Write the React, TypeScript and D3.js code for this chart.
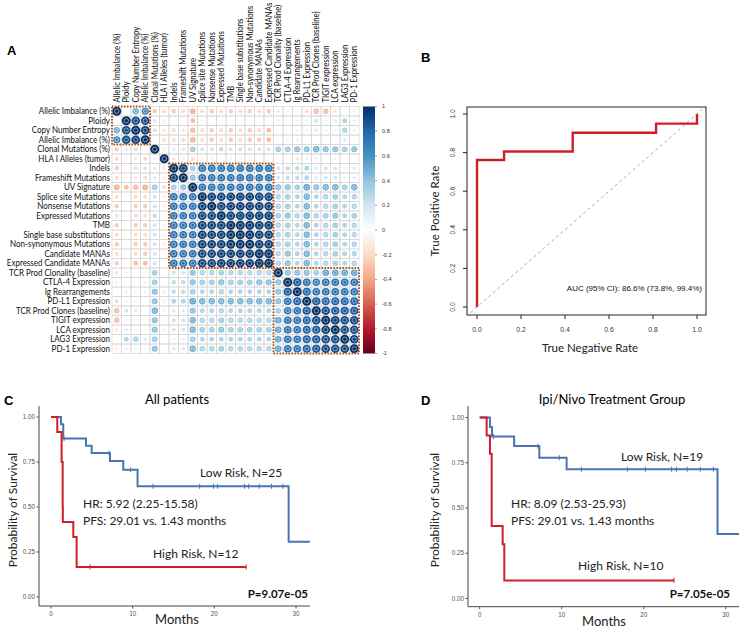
import React from 'react';
import * as d3 from 'd3';

// ---------------- Panel A data ----------------
const varLabels = [
  'Allelic Imbalance (%)', 'Ploidy', 'Copy Number Entropy', 'Allelic Imbalance (%)',
  'Clonal Mutations (%)', 'HLA I Alleles (tumor)', 'Indels', 'Frameshift Mutations',
  'UV Signature', 'Splice site Mutations', 'Nonsense Mutations', 'Expressed Mutations',
  'TMB', 'Single base substitutions', 'Non-synonymous Mutations', 'Candidate MANAs',
  'Expressed Candidate MANAs', 'TCR Prod Clonality (baseline)', 'CTLA-4 Expression',
  'Ig Rearrangements', 'PD-L1 Expression', 'TCR Prod Clones (baseline)', 'TIGIT expression',
  'LCA expression', 'LAG3 Expression', 'PD-1 Expression',
];

// upper triangle of the correlation matrix: row i holds columns i+1..n-1
const corrUpper: number[][] = [
  [0.05, 0.5, 0.65, -0.25, -0.2, -0.25, -0.2, -0.4, -0.2, -0.25, -0.2, -0.25, -0.2, -0.25, -0.2, -0.25, -0.15, -0.1, 0.05, -0.2, -0.35, -0.35, -0.15, 0.0, -0.1],
  [0.9, 0.9, 0.15, -0.1, 0.0, 0.05, -0.3, -0.05, 0.0, -0.05, 0.0, -0.05, 0.0, 0.0, -0.05, 0.1, 0.05, 0.1, 0.1, 0.2, 0.1, 0.15, 0.3, 0.1],
  [0.95, 0.2, -0.15, -0.2, -0.15, -0.35, -0.2, -0.25, -0.2, -0.25, -0.2, -0.25, -0.2, -0.3, 0.05, 0.05, 0.1, 0.1, 0.15, 0.1, 0.1, 0.35, 0.1],
  [0.05, -0.2, -0.2, -0.2, -0.4, -0.2, -0.25, -0.2, -0.25, -0.2, -0.25, -0.25, -0.3, 0.05, 0.1, 0.1, 0.05, 0.05, 0.05, 0.05, 0.15, 0.05],
  [0.1, 0.15, 0.15, 0.4, 0.2, 0.2, 0.25, 0.2, 0.2, 0.2, 0.2, 0.2, 0.4, 0.4, 0.45, 0.45, 0.5, 0.45, 0.45, 0.4, 0.45],
  [-0.15, -0.1, -0.2, -0.1, -0.1, -0.05, -0.1, -0.1, -0.1, -0.05, -0.05, 0.05, 0.05, -0.15, 0.1, 0.1, 0.05, 0.1, 0.05, 0.05],
  [0.95, 0.4, 0.75, 0.75, 0.75, 0.75, 0.75, 0.75, 0.75, 0.75, 0.2, 0.25, 0.25, 0.3, 0.15, 0.2, 0.2, 0.1, 0.15],
  [0.45, 0.75, 0.75, 0.75, 0.75, 0.75, 0.75, 0.75, 0.75, 0.2, 0.25, 0.25, 0.3, 0.15, 0.2, 0.2, 0.1, 0.15],
  [0.75, 0.75, 0.75, 0.75, 0.75, 0.75, 0.75, 0.75, 0.45, 0.45, 0.4, 0.55, 0.45, 0.5, 0.5, 0.4, 0.5],
  [0.95, 0.93, 0.95, 0.95, 0.95, 0.93, 0.93, 0.35, 0.4, 0.3, 0.5, 0.3, 0.35, 0.4, 0.3, 0.35],
  [0.93, 0.95, 0.95, 0.95, 0.93, 0.93, 0.35, 0.4, 0.3, 0.5, 0.3, 0.35, 0.4, 0.3, 0.35],
  [0.95, 0.95, 0.95, 0.95, 0.95, 0.4, 0.45, 0.35, 0.5, 0.35, 0.4, 0.45, 0.3, 0.4],
  [0.98, 0.98, 0.95, 0.95, 0.35, 0.4, 0.3, 0.5, 0.3, 0.35, 0.4, 0.3, 0.35],
  [0.98, 0.95, 0.95, 0.35, 0.4, 0.3, 0.5, 0.3, 0.35, 0.4, 0.3, 0.35],
  [0.95, 0.95, 0.35, 0.4, 0.3, 0.5, 0.3, 0.35, 0.4, 0.3, 0.35],
  [0.98, 0.35, 0.45, 0.3, 0.5, 0.3, 0.35, 0.4, 0.3, 0.35],
  [0.35, 0.45, 0.3, 0.5, 0.3, 0.35, 0.4, 0.3, 0.35],
  [0.45, 0.45, 0.45, 0.4, 0.55, 0.55, 0.55, 0.55],
  [0.85, 0.75, 0.7, 0.75, 0.75, 0.75, 0.75],
  [0.8, 0.75, 0.75, 0.75, 0.75, 0.75],
  [0.85, 0.8, 0.8, 0.8, 0.8],
  [0.9, 0.85, 0.85, 0.85],
  [0.95, 0.9, 0.92],
  [0.9, 0.9],
  [0.93],
];

const clusterBlocks: [number, number][] = [[0, 3], [6, 16], [17, 25]];
const colorbarTicks = [1, 0.8, 0.6, 0.4, 0.2, 0, -0.2, -0.4, -0.6, -0.8, -1];

// ---------------- Panel B data ----------------
const rocTNR = [0, 0, 0.123, 0.123, 0.435, 0.435, 0.814, 0.814, 1, 1];
const rocTPR = [0, 0.762, 0.762, 0.806, 0.806, 0.903, 0.903, 0.95, 0.95, 1];
const rocTicks = [0, 0.2, 0.4, 0.6, 0.8, 1.0];

// ---------------- Panel C data ----------------
const cLowTime = [0, 1.22, 1.5, 4.28, 4.98, 7.22, 8.85, 10.6, 29.1, 31.7];
const cLowSurv = [1, 0.96, 0.88, 0.84, 0.8, 0.755, 0.707, 0.615, 0.307, 0.307];
const cLowCensor = [1.6, 7.1, 9.75, 12.5, 18.2, 19.9, 20.4, 23.7, 24.2, 25.5, 27.0, 28.4];
const cHighTime = [0, 0.77, 1.3, 1.43, 1.45, 2.73, 3.14, 23.9];
const cHighSurv = [1, 0.917, 0.75, 0.5, 0.417, 0.333, 0.167, 0.167];
const cHighCensor = [4.77, 23.9];

// ---------------- Panel D data ----------------
const dLowTime = [0, 1.25, 1.5, 4.2, 7.27, 10.6, 29.0, 31.8];
const dLowSurv = [1, 0.947, 0.895, 0.842, 0.778, 0.714, 0.357, 0.357];
const dLowCensor = [1.7, 7.1, 9.7, 12.4, 18.0, 20.2, 23.4, 24.0, 25.3, 26.9, 28.5];
const dHighTime = [0, 0.85, 1.25, 1.46, 2.8, 3.0, 23.7];
const dHighSurv = [1, 0.9, 0.8, 0.4, 0.3, 0.1, 0.1];
const dHighCensor = [23.7];

const kmYTicks = [0, 0.25, 0.5, 0.75, 1];
const kmXTicks = [0, 10, 20, 30];

const corrColors = ['#67001F', '#B2182B', '#D6604D', '#F4A582', '#FDDBC7', '#FFFFFF', '#D1E5F0', '#92C5DE', '#4393C3', '#2166AC', '#053061'];

const LABEL_FONT = 'Lato, "Open Sans", sans-serif';
const TICK_FONT = '"Liberation Sans", Arial, sans-serif';
const BLUE = '#4a74b4';
const RED = '#cf1f26';

function stepValue(times: number[], surv: number[], t: number) {
  let v = surv[0];
  for (let i = 0; i < times.length; i++) if (times[i] <= t) v = surv[i];
  return v;
}

type KMProps = {
  x0: number; x1: number; y0: number; y1: number;
  axisLeft: number; axisRight: number; axisTop: number; axisBottom: number;
  low: [number[], number[], number[]];
  high: [number[], number[], number[]];
};

function KM(p: KMProps) {
  const x = d3.scaleLinear().domain([0, 30]).range([p.x0, p.x1]);
  const y = d3.scaleLinear().domain([0, 1]).range([p.y0, p.y1]);
  const line = d3.line<[number, number]>().x((d) => x(d[0])).y((d) => y(d[1])).curve(d3.curveStepAfter);
  const curve = (times: number[], surv: number[], censor: number[], color: string) => (
    <g>
      <path d={line(times.map((t, i) => [t, surv[i]] as [number, number])) || ''} fill="none" stroke={color} strokeWidth={2} />
      {censor.map((t, i) => {
        const v = stepValue(times, surv, t);
        return <line key={i} x1={x(t)} x2={x(t)} y1={y(v) - 2.5} y2={y(v) + 2.5} stroke={color} strokeWidth={1} />;
      })}
    </g>
  );
  return (
    <g>
      <line x1={p.axisLeft} x2={p.axisLeft} y1={p.axisTop} y2={p.axisBottom} stroke="#444" strokeWidth={1} />
      <line x1={p.axisLeft} x2={p.axisRight} y1={p.axisBottom} y2={p.axisBottom} stroke="#444" strokeWidth={1} />
      {kmYTicks.map((t) => (
        <g key={t}>
          <line x1={p.axisLeft - 2.5} x2={p.axisLeft} y1={y(t)} y2={y(t)} stroke="#555" />
          <text x={p.axisLeft - 4} y={y(t)} dy="0.33em" textAnchor="end" fontSize={6.3} fill="#555" fontFamily={TICK_FONT}>{t.toFixed(2)}</text>
        </g>
      ))}
      {kmXTicks.map((t) => (
        <g key={t}>
          <line x1={x(t)} x2={x(t)} y1={p.axisBottom} y2={p.axisBottom + 2.5} stroke="#555" />
          <text x={x(t)} y={p.axisBottom + 10} textAnchor="middle" fontSize={6.3} fill="#555" fontFamily={TICK_FONT}>{t}</text>
        </g>
      ))}
      {curve(p.low[0], p.low[1], p.low[2], BLUE)}
      {curve(p.high[0], p.high[1], p.high[2], RED)}
    </g>
  );
}

export default function App() {
  const n = varLabels.length;
  const M: number[][] = d3.range(n).map(() => d3.range(n).map(() => 1));
  corrUpper.forEach((row, i) => row.forEach((v, k) => { const j = i + 1 + k; M[i][j] = v; M[j][i] = v; }));

  const cell = 9.5;
  const gx0 = 112;
  const gy0 = 106.5;
  const bx = d3.scaleBand<number>().domain(d3.range(n)).range([gx0, gx0 + n * cell]);
  const by = d3.scaleBand<number>().domain(d3.range(n)).range([gy0, gy0 + n * cell]);
  const color = d3.scaleLinear<string>().domain(corrColors.map((_, i) => -1 + i * 0.2)).range(corrColors).interpolate(d3.interpolateRgb);
  const rad = d3.scaleSqrt().domain([0, 1]).range([0, cell * 0.47]);
  const cbY = d3.scaleLinear().domain([-1, 1]).range([gy0 + n * cell, gy0]);

  const rx = d3.scaleLinear().domain([0, 1]).range([477, 697]);
  const ry = d3.scaleLinear().domain([0, 1]).range([307, 114]);
  const rocLine = d3.line<number>().x((d) => rx(d)).y((_, i) => ry(rocTPR[i]));

  return (
    <svg width={739} height={628} style={{ position: 'absolute', left: 0, top: 0, background: '#fff' }} fontFamily={LABEL_FONT}>
      <defs>
        <linearGradient id="cbgrad" x1="0" y1="1" x2="0" y2="0">
          {corrColors.map((c, i) => <stop key={i} offset={`${i * 10}%`} stopColor={c} />)}
        </linearGradient>
        <clipPath id="rocclip"><rect x={467} y={107} width={239} height={208} /></clipPath>
      </defs>
      <rect x={0} y={0} width={739} height={628} fill="#fff" />

      {/* Panel letters */}
      <text x={7} y={55} fontSize={13} fontWeight="bold" fontFamily={TICK_FONT}>A</text>
      <text x={421} y={62} fontSize={13} fontWeight="bold" fontFamily={TICK_FONT}>B</text>
      <text x={4} y={405} fontSize={13} fontWeight="bold" fontFamily={TICK_FONT}>C</text>
      <text x={421} y={405} fontSize={13} fontWeight="bold" fontFamily={TICK_FONT}>D</text>

      {/* ---------- Panel A ---------- */}
      <g>
        {d3.range(n).map((i) => d3.range(n).map((j) => (
          <rect key={`g${i}-${j}`} x={bx(j)} y={by(i)} width={cell} height={cell} fill="none" stroke="#d6d6d6" strokeWidth={0.7} />
        )))}
        {d3.range(n).map((i) => d3.range(n).map((j) => {
          const v = M[i][j];
          const r = rad(Math.abs(v));
          const cx = (bx(j) as number) + cell / 2;
          const cy = (by(i) as number) + cell / 2;
          return (
            <g key={`c${i}-${j}`}>
              <circle cx={cx} cy={cy} r={r} fill={color(v)} />
              {Math.abs(v) >= 0.35 && <circle cx={cx} cy={cy} r={r * 0.5} fill="none" stroke="#fff" strokeOpacity={0.55} strokeWidth={0.9} />}
            </g>
          );
        }))}
        {clusterBlocks.map(([a, b], k) => (
          <rect key={k} x={bx(a)} y={by(a)} width={(b - a + 1) * cell} height={(b - a + 1) * cell} fill="none" stroke="#b4531e" strokeWidth={2} strokeDasharray="1.5,1.5" />
        ))}
        {varLabels.map((l, i) => (
          <text key={`r${i}`} transform={`translate(${gx0 - 2},${(by(i) as number) + cell / 2}) scale(0.93,1)`} dy="0.35em" textAnchor="end" fontSize={8.6} fill="#111">{l}</text>
        ))}
        {varLabels.map((l, i) => {
          const cx = (bx(i) as number) + cell / 2;
          return <text key={`t${i}`} transform={`translate(${cx},${gy0 - 4}) rotate(-90) scale(0.9,1)`} dy="0.35em" textAnchor="start" fontSize={8.6} fill="#111">{l}</text>;
        })}
        <rect x={363} y={gy0} width={12} height={n * cell} fill="url(#cbgrad)" />
        {colorbarTicks.map((t) => (
          <g key={t}>
            <line x1={375} x2={377} y1={cbY(t)} y2={cbY(t)} stroke="#666" strokeWidth={0.6} />
            <text x={382} y={cbY(t)} dy="0.35em" fontSize={5.6} fill="#333" fontFamily={TICK_FONT}>{t}</text>
          </g>
        ))}
      </g>

      {/* ---------- Panel B ---------- */}
      <g>
        <rect x={467} y={107} width={239} height={208} fill="none" stroke="#222" strokeWidth={1} />
        <line x1={rx(-0.05)} y1={ry(-0.05)} x2={rx(1.05)} y2={ry(1.05)} stroke="#aaa" strokeWidth={1} strokeDasharray="3,3" clipPath="url(#rocclip)" />
        <path d={rocLine(rocTNR) || ''} fill="none" stroke={RED} strokeWidth={2.4} />
        {rocTicks.map((t) => (
          <g key={`rx${t}`}>
            <line x1={rx(t)} x2={rx(t)} y1={315} y2={319} stroke="#222" />
            <text x={rx(t)} y={332} textAnchor="middle" fontSize={6.8} fill="#333" fontFamily={TICK_FONT}>{t.toFixed(1)}</text>
            <line x1={463} x2={467} y1={ry(t)} y2={ry(t)} stroke="#222" />
            <text transform={`translate(455,${ry(t)}) rotate(-90)`} textAnchor="middle" fontSize={6.8} fill="#333" fontFamily={TICK_FONT}>{t.toFixed(1)}</text>
          </g>
        ))}
        <text x={702} y={291} textAnchor="end" fontSize={8} fill="#111" fontFamily={TICK_FONT}>AUC (95% CI): 86.6% (73.8%, 99.4%)</text>
        <text transform="translate(439,211) rotate(-90)" textAnchor="middle" fontSize={11.5} fill="#222">True Positive Rate</text>
        <text x={590} y={352} textAnchor="middle" fontSize={11.5} fill="#222">True Negative Rate</text>
      </g>

      {/* ---------- Panel C ---------- */}
      <g>
        <text x={177} y={404} textAnchor="middle" fontSize={13}>All patients</text>
        <KM x0={51} x1={296} y0={597} y1={417} axisLeft={39} axisRight={310} axisTop={406} axisBottom={606}
          low={[cLowTime, cLowSurv, cLowCensor]} high={[cHighTime, cHighSurv, cHighCensor]} />
        <text x={200} y={477} fontSize={12} fill="#222">Low Risk, N=25</text>
        <text x={83} y={508} fontSize={12} fill="#222">HR: 5.92 (2.25-15.58)</text>
        <text x={83} y={525} fontSize={12} fill="#222">PFS: 29.01 vs. 1.43 months</text>
        <text x={153} y={558} fontSize={12} fill="#222">High Risk, N=12</text>
        <text x={308} y={598} textAnchor="end" fontSize={11.5} fontWeight="bold" fill="#111">P=9.07e-05</text>
        <text transform="translate(17,510) rotate(-90)" textAnchor="middle" fontSize={12} fill="#222">Probability of Survival</text>
        <text x={177} y={624} textAnchor="middle" fontSize={13} fill="#222">Months</text>
      </g>

      {/* ---------- Panel D ---------- */}
      <g>
        <text x={612} y={404} textAnchor="middle" fontSize={13}>Ipi/Nivo Treatment Group</text>
        <KM x0={479.7} x1={725.7} y0={598.5} y1={417.5} axisLeft={468} axisRight={739} axisTop={406} axisBottom={606.7}
          low={[dLowTime, dLowSurv, dLowCensor]} high={[dHighTime, dHighSurv, dHighCensor]} />
        <text x={621} y={461} fontSize={12} fill="#222">Low Risk, N=19</text>
        <text x={511} y={508} fontSize={12} fill="#222">HR: 8.09 (2.53-25.93)</text>
        <text x={511} y={525} fontSize={12} fill="#222">PFS: 29.01 vs. 1.43 months</text>
        <text x={578} y={570} fontSize={12} fill="#222">High Risk, N=10</text>
        <text x={730} y={598} textAnchor="end" fontSize={11.5} fontWeight="bold" fill="#111">P=7.05e-05</text>
        <text transform="translate(439,510) rotate(-90)" textAnchor="middle" fontSize={12} fill="#222">Probability of Survival</text>
        <text x={604} y={626} textAnchor="middle" fontSize={13} fill="#222">Months</text>
      </g>
    </svg>
  );
}
